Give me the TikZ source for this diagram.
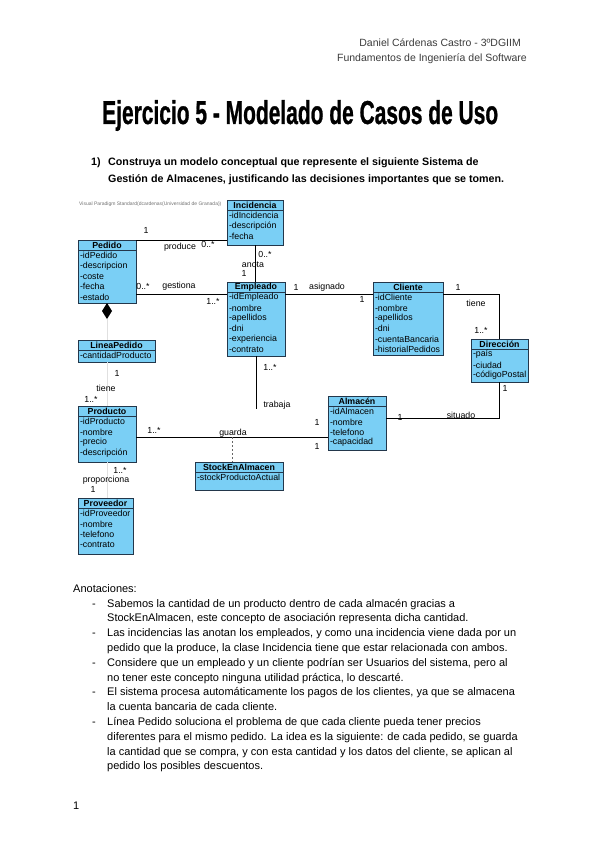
\documentclass[tikz,border=0pt]{standalone}
\usepackage{fontspec}
\setmainfont{Liberation Sans}
\newfontfamily\titlefont[FakeBold=1.0]{Liberation Sans}
\usepackage{graphicx}
\usetikzlibrary{calc}
\definecolor{boxfill}{RGB}{122,207,245}
\definecolor{boxline}{RGB}{35,55,75}
\definecolor{hdrgray}{RGB}{60,60,60}

\newcommand{\umlclass}[7]{%
  \node[classbox, anchor=north west, minimum width=#4pt, minimum height=#5pt] (#1) at (#2,#3) {};
  \draw[classline] ($(#1.north west)+(0,10)$) -- ($(#1.north east)+(0,10)$);
  \node[classtitle] (#1-t) at ($(#1.north)+(0,5.2)$) {#6};
  \foreach \a [count=\i] in {#7} {
    \node[attr] (#1-a\i) at ($(#1.north west)+(1.8,{15.5+(\i-1)*10.4})$) {\a};
  }%
}

\begin{document}
\begin{tikzpicture}[x=1pt,y=-1pt,
  classbox/.style={draw=boxline, fill=boxfill, line width=0.9pt, inner sep=0pt, outer sep=0pt},
  classline/.style={draw=boxline, line width=0.7pt},
  classtitle/.style={inner sep=0pt, font=\fontsize{8.8}{9}\selectfont\bfseries},
  attr/.style={anchor=west, inner sep=0pt, font=\fontsize{8.8}{9}\selectfont},
  lbl/.style={inner sep=0pt, font=\fontsize{8.8}{9}\selectfont},
  conn/.style={draw=black, line width=0.75pt},
  faint/.style={draw=black!12, line width=0.6pt},
  body/.style={anchor=base west, inner sep=0pt, font=\fontsize{11}{13}\selectfont},
  qtext/.style={anchor=base west, inner sep=0pt, font=\fontsize{10.7}{13}\selectfont\bfseries},
]
\fill[white] (0,0) rectangle (600,848);
\useasboundingbox (0,0) rectangle (600,848);

% header
\node[anchor=base east, inner sep=0pt, font=\fontsize{10.5}{12}\selectfont, text=hdrgray] (hdr1) at (521,47) {Daniel Cárdenas Castro - 3ºDGIIM};
\node[anchor=base east, inner sep=0pt, font=\fontsize{10.5}{12}\selectfont, text=hdrgray] (hdr2) at (527,62) {Fundamentos de Ingeniería del Software};

% title
\node[anchor=base west, inner sep=0pt] (title) at (102,124) {\resizebox{396pt}{24pt}{\titlefont\bfseries Ejercicio 5 - Modelado de Casos de Uso}};

% question
\node[qtext] (q0) at (91,165) {1)};
\node[qtext] (q1) at (108,165) {Construya un modelo conceptual que represente el siguiente Sistema de};
\node[qtext] (q2) at (108,182) {Gestión de Almacenes, justificando las decisiones importantes que se tomen.};

% watermark
\node[anchor=west, inner sep=0pt, font=\fontsize{5}{6}\selectfont, text=black!55] (vp) at (79,204) {Visual Paradigm Standard(dcardenas(Universidad de Granada))};

% classes
\umlclass{incidencia}{227}{200}{56}{45}{Incidencia}{-idIncidencia,-descripción,-fecha}
\umlclass{pedido}{78}{240}{58}{63}{Pedido}{-idPedido,-descripcion,-coste,-fecha,-estado}
\umlclass{lineapedido}{78}{340}{77}{22}{LineaPedido}{-cantidadProducto}
\umlclass{producto}{78}{406}{58}{56}{Producto}{-idProducto,-nombre,-precio,-descripción}
\umlclass{proveedor}{78}{498}{55}{56}{Proveedor}{-idProveedor,-nombre,-telefono,-contrato}
\umlclass{empleado}{227}{282}{58}{74}{Empleado}{-idEmpleado,-nombre,-apellidos,-dni,-experiencia,-contrato}
\umlclass{cliente}{373}{282}{70}{73}{Cliente}{-idCliente,-nombre,-apellidos,-dni,-cuentaBancaria,-historialPedidos}
\umlclass{direccion}{471}{339}{57}{43}{Dirección}{-país,-ciudad,-códigoPostal}
\umlclass{almacen}{328}{396}{58}{54}{Almacén}{-idAlmacen,-nombre,-telefono,-capacidad}
\umlclass{stock}{195}{462}{88}{28}{StockEnAlmacen}{-stockProductoActual}

% connector levels
\coordinate (yg) at (0,294);
\coordinate (ys) at (0,418);
\coordinate (ygu) at (0,437);
\coordinate (assoc) at (232,437);
\coordinate (trabEnd) at ($(empleado.south)+(0,53)$);

% connectors
\draw[conn] (pedido.north east) -- (pedido.north east -| incidencia.west);
\draw[conn] (incidencia.south) -- (incidencia.south |- empleado.north);
\draw[conn] (pedido.east |- yg) -- (empleado.west |- yg);
\draw[conn] (empleado.east |- yg) -- (cliente.west |- yg);
\draw[conn] (cliente.east |- yg) -| (direccion.north);
\draw[conn] (direccion.south) |- (almacen.east |- ys);
\draw[conn] (empleado.south) -- (trabEnd);
\draw[conn] (producto.east |- ygu) -- (almacen.west |- ygu);
\draw[conn, draw=black!60, dash pattern=on 2pt off 2pt] (assoc) -- (assoc |- stock.north);

% composition
\fill[black] (pedido.south) -- ++(5,8) -- ++(-5,8) -- ++(-5,-8) -- cycle;
\draw[faint] ($(pedido.south)+(0,16)$) -- (lineapedido.north -| pedido.south);
\draw[faint] (producto.north) -- (producto.north |- lineapedido.south);
\draw[faint] (producto.south) -- (producto.south |- proveedor.north);

% labels
\node[lbl] (m1) at (146,230) {1};
\node[lbl] (m2) at (180,247) {produce};
\node[lbl] (m3) at (208,244) {0..*};
\node[lbl] (m4) at (265,254) {0..*};
\node[lbl] (m5) at (253,265) {anota};
\node[lbl] (m6) at (244,273) {1};
\node[lbl] (m7) at (143,286) {0..*};
\node[lbl] (m8) at (179,286) {gestiona};
\node[lbl] (m9) at (213,301) {1..*};
\node[lbl] (m10) at (296,287) {1};
\node[lbl] (m11) at (327,287) {asignado};
\node[lbl] (m12) at (362,299) {1};
\node[lbl] (m13) at (458,287) {1};
\node[lbl] (m14) at (476,303) {tiene};
\node[lbl] (m15) at (481,330) {1..*};
\node[lbl] (m16) at (505,388) {1};
\node[lbl] (m17) at (461,415) {situado};
\node[lbl] (m18) at (400,417) {1};
\node[lbl] (m19) at (270,367) {1..*};
\node[lbl] (m20) at (277,405) {trabaja};
\node[lbl] (m21) at (317,422) {1};
\node[lbl] (m22) at (154,430) {1..*};
\node[lbl] (m23) at (233,433) {guarda};
\node[lbl] (m24) at (317,446) {1};
\node[lbl] (m25) at (117,373) {1};
\node[lbl] (m26) at (106,388) {tiene};
\node[lbl] (m27) at (91,399) {1..*};
\node[lbl] (m28) at (120,470) {1..*};
\node[lbl] (m29) at (106,480) {proporciona};
\node[lbl] (m30) at (93,489) {1};

% annotations
\node[body] (anot) at (73,592) {Anotaciones:};
\foreach \t [count=\k from 0] in {
  {Sabemos la cantidad de un producto dentro de cada almacén gracias a},
  {StockEnAlmacen, este concepto de asociación representa dicha cantidad.},
  {Las incidencias las anotan los empleados, y como una incidencia viene dada por un},
  {pedido que la produce, la clase Incidencia tiene que estar relacionada con ambos.},
  {Considere que un empleado y un cliente podrían ser Usuarios del sistema, pero al},
  {no tener este concepto ninguna utilidad práctica, lo descarté.},
  {El sistema procesa automáticamente los pagos de los clientes, ya que se almacena},
  {la cuenta bancaria de cada cliente.},
  {Línea Pedido soluciona el problema de que cada cliente pueda tener precios},
  {diferentes para el mismo pedido. La idea es la siguiente: de cada pedido, se guarda},
  {la cantidad que se compra, y con esta cantidad y los datos del cliente, se aplican al},
  {pedido los posibles descuentos.}} {
  \node[body] (ln\k) at (107,{607+\k*14.8}) {\t};
}
\foreach \k in {0,2,4,6,8} {
  \node[body] (dash\k) at (92,{607+\k*14.8}) {-};
}
\node[body] (pnum) at (73,809) {1};
\end{tikzpicture}
\end{document}
